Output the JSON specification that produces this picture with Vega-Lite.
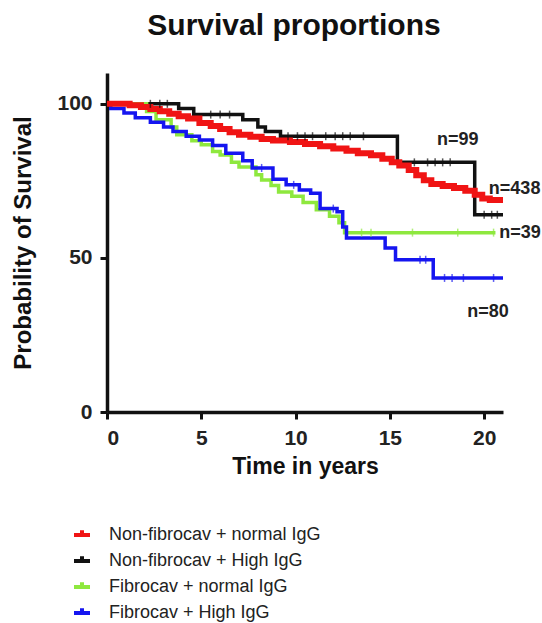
{
  "$schema": "https://vega.github.io/schema/vega-lite/v6.json",
  "width": 396,
  "height": 339,
  "autosize": {"type": "none"},
  "padding": {"left": 107, "top": 73, "right": 39, "bottom": 211},
  "background": "white",
  "config": {
    "view": {"stroke": null},
    "font": "Liberation Sans",
    "axis": {
      "grid": false,
      "domainColor": "#111111",
      "domainWidth": 3.5,
      "tickColor": "#111111",
      "tickWidth": 3,
      "tickSize": 7,
      "labelFont": "Liberation Sans",
      "labelFontSize": 21,
      "labelFontWeight": "bold",
      "labelColor": "#222222",
      "labelPadding": 8,
      "titleFont": "Liberation Sans",
      "titleFontWeight": "bold",
      "titleColor": "#111111"
    }
  },
  "title": {
    "text": "Survival proportions",
    "fontSize": 30,
    "fontWeight": "bold",
    "font": "Liberation Sans",
    "color": "#111111",
    "anchor": "middle",
    "offset": 32,
    "dx": -11
  },
  "datasets": {
    "curves": [
      {"group": "Non-fibrocav + High IgG", "t": 0, "s": 100},
      {"group": "Non-fibrocav + High IgG", "t": 3.8, "s": 98.5},
      {"group": "Non-fibrocav + High IgG", "t": 4.6, "s": 96.5},
      {"group": "Non-fibrocav + High IgG", "t": 7.2, "s": 94.8},
      {"group": "Non-fibrocav + High IgG", "t": 8.0, "s": 92.5},
      {"group": "Non-fibrocav + High IgG", "t": 8.4, "s": 91},
      {"group": "Non-fibrocav + High IgG", "t": 9.2, "s": 89.5},
      {"group": "Non-fibrocav + High IgG", "t": 15.4, "s": 81},
      {"group": "Non-fibrocav + High IgG", "t": 19.5, "s": 64},
      {"group": "Non-fibrocav + High IgG", "t": 21, "s": 64},

      {"group": "Fibrocav + normal IgG", "t": 0, "s": 100},
      {"group": "Fibrocav + normal IgG", "t": 2.1, "s": 97.5},
      {"group": "Fibrocav + normal IgG", "t": 2.6, "s": 94.8},
      {"group": "Fibrocav + normal IgG", "t": 3.4, "s": 92.5},
      {"group": "Fibrocav + normal IgG", "t": 3.7, "s": 90},
      {"group": "Fibrocav + normal IgG", "t": 4.5, "s": 88},
      {"group": "Fibrocav + normal IgG", "t": 5.0, "s": 86.7},
      {"group": "Fibrocav + normal IgG", "t": 5.6, "s": 84.5},
      {"group": "Fibrocav + normal IgG", "t": 6.0, "s": 83.4},
      {"group": "Fibrocav + normal IgG", "t": 6.6, "s": 81},
      {"group": "Fibrocav + normal IgG", "t": 7.0, "s": 79.5},
      {"group": "Fibrocav + normal IgG", "t": 7.9, "s": 77},
      {"group": "Fibrocav + normal IgG", "t": 8.2, "s": 75.3},
      {"group": "Fibrocav + normal IgG", "t": 8.7, "s": 73.5},
      {"group": "Fibrocav + normal IgG", "t": 9.1, "s": 71.4},
      {"group": "Fibrocav + normal IgG", "t": 9.8, "s": 70},
      {"group": "Fibrocav + normal IgG", "t": 10.4, "s": 68},
      {"group": "Fibrocav + normal IgG", "t": 11.1, "s": 65.6},
      {"group": "Fibrocav + normal IgG", "t": 11.8, "s": 63.5},
      {"group": "Fibrocav + normal IgG", "t": 12.3, "s": 61.4},
      {"group": "Fibrocav + normal IgG", "t": 12.6, "s": 58.2},
      {"group": "Fibrocav + normal IgG", "t": 20.6, "s": 58.2},

      {"group": "Fibrocav + High IgG", "t": 0, "s": 100},
      {"group": "Fibrocav + High IgG", "t": 0.2, "s": 98.5},
      {"group": "Fibrocav + High IgG", "t": 0.9, "s": 97},
      {"group": "Fibrocav + High IgG", "t": 1.5, "s": 95.5},
      {"group": "Fibrocav + High IgG", "t": 2.3, "s": 94},
      {"group": "Fibrocav + High IgG", "t": 3.0, "s": 92.5},
      {"group": "Fibrocav + High IgG", "t": 3.5, "s": 91},
      {"group": "Fibrocav + High IgG", "t": 4.2, "s": 89.5},
      {"group": "Fibrocav + High IgG", "t": 4.9, "s": 88.3},
      {"group": "Fibrocav + High IgG", "t": 5.6, "s": 86.5},
      {"group": "Fibrocav + High IgG", "t": 6.3, "s": 84},
      {"group": "Fibrocav + High IgG", "t": 7.2, "s": 81.5},
      {"group": "Fibrocav + High IgG", "t": 7.7, "s": 79.2},
      {"group": "Fibrocav + High IgG", "t": 8.8, "s": 75.5},
      {"group": "Fibrocav + High IgG", "t": 9.5, "s": 73.7},
      {"group": "Fibrocav + High IgG", "t": 10.2, "s": 72},
      {"group": "Fibrocav + High IgG", "t": 10.8, "s": 71},
      {"group": "Fibrocav + High IgG", "t": 11.3, "s": 66},
      {"group": "Fibrocav + High IgG", "t": 12.2, "s": 65},
      {"group": "Fibrocav + High IgG", "t": 12.5, "s": 60},
      {"group": "Fibrocav + High IgG", "t": 12.7, "s": 56.5},
      {"group": "Fibrocav + High IgG", "t": 14.75, "s": 53.2},
      {"group": "Fibrocav + High IgG", "t": 15.3, "s": 49.4},
      {"group": "Fibrocav + High IgG", "t": 17.3, "s": 43.5},
      {"group": "Fibrocav + High IgG", "t": 21, "s": 43.5},

      {"group": "Non-fibrocav + normal IgG", "t": 0, "s": 100},
      {"group": "Non-fibrocav + normal IgG", "t": 1.2, "s": 99.5},
      {"group": "Non-fibrocav + normal IgG", "t": 1.8, "s": 99},
      {"group": "Non-fibrocav + normal IgG", "t": 2.3, "s": 98.3},
      {"group": "Non-fibrocav + normal IgG", "t": 2.8, "s": 97.6},
      {"group": "Non-fibrocav + normal IgG", "t": 3.3, "s": 96.8},
      {"group": "Non-fibrocav + normal IgG", "t": 3.8, "s": 96},
      {"group": "Non-fibrocav + normal IgG", "t": 4.3, "s": 95.2},
      {"group": "Non-fibrocav + normal IgG", "t": 4.9, "s": 93.8},
      {"group": "Non-fibrocav + normal IgG", "t": 5.5, "s": 92.8},
      {"group": "Non-fibrocav + normal IgG", "t": 6.0, "s": 91.8},
      {"group": "Non-fibrocav + normal IgG", "t": 6.5, "s": 90.8},
      {"group": "Non-fibrocav + normal IgG", "t": 7.0, "s": 90},
      {"group": "Non-fibrocav + normal IgG", "t": 7.6, "s": 89.3},
      {"group": "Non-fibrocav + normal IgG", "t": 8.2, "s": 88.6},
      {"group": "Non-fibrocav + normal IgG", "t": 8.8, "s": 88.1},
      {"group": "Non-fibrocav + normal IgG", "t": 9.7, "s": 87.6},
      {"group": "Non-fibrocav + normal IgG", "t": 10.5, "s": 87},
      {"group": "Non-fibrocav + normal IgG", "t": 11.3, "s": 86.2},
      {"group": "Non-fibrocav + normal IgG", "t": 12.0, "s": 85.5},
      {"group": "Non-fibrocav + normal IgG", "t": 12.7, "s": 84.8},
      {"group": "Non-fibrocav + normal IgG", "t": 13.3, "s": 84},
      {"group": "Non-fibrocav + normal IgG", "t": 14.0, "s": 83.3},
      {"group": "Non-fibrocav + normal IgG", "t": 14.6, "s": 82.2},
      {"group": "Non-fibrocav + normal IgG", "t": 15.1, "s": 81},
      {"group": "Non-fibrocav + normal IgG", "t": 15.5, "s": 80},
      {"group": "Non-fibrocav + normal IgG", "t": 16.0, "s": 78.5},
      {"group": "Non-fibrocav + normal IgG", "t": 16.4, "s": 76.8},
      {"group": "Non-fibrocav + normal IgG", "t": 16.8, "s": 75.2},
      {"group": "Non-fibrocav + normal IgG", "t": 17.2, "s": 74},
      {"group": "Non-fibrocav + normal IgG", "t": 17.8, "s": 73.3},
      {"group": "Non-fibrocav + normal IgG", "t": 18.4, "s": 72.7},
      {"group": "Non-fibrocav + normal IgG", "t": 19.0, "s": 71.8},
      {"group": "Non-fibrocav + normal IgG", "t": 19.5, "s": 70.5},
      {"group": "Non-fibrocav + normal IgG", "t": 19.9, "s": 69.3},
      {"group": "Non-fibrocav + normal IgG", "t": 20.3, "s": 68.8},
      {"group": "Non-fibrocav + normal IgG", "t": 21, "s": 68.8}
    ],
    "censor": [
      {"group": "Non-fibrocav + High IgG", "t": 2.3, "s": 100},
      {"group": "Non-fibrocav + High IgG", "t": 2.8, "s": 100},
      {"group": "Non-fibrocav + High IgG", "t": 3.2, "s": 100},
      {"group": "Non-fibrocav + High IgG", "t": 5.5, "s": 96.5},
      {"group": "Non-fibrocav + High IgG", "t": 6.0, "s": 96.5},
      {"group": "Non-fibrocav + High IgG", "t": 6.5, "s": 96.5},
      {"group": "Non-fibrocav + High IgG", "t": 9.6, "s": 89.5},
      {"group": "Non-fibrocav + High IgG", "t": 10.1, "s": 89.5},
      {"group": "Non-fibrocav + High IgG", "t": 10.5, "s": 89.5},
      {"group": "Non-fibrocav + High IgG", "t": 10.9, "s": 89.5},
      {"group": "Non-fibrocav + High IgG", "t": 11.6, "s": 89.5},
      {"group": "Non-fibrocav + High IgG", "t": 12.1, "s": 89.5},
      {"group": "Non-fibrocav + High IgG", "t": 12.5, "s": 89.5},
      {"group": "Non-fibrocav + High IgG", "t": 12.9, "s": 89.5},
      {"group": "Non-fibrocav + High IgG", "t": 13.6, "s": 89.5},
      {"group": "Non-fibrocav + High IgG", "t": 16.3, "s": 81},
      {"group": "Non-fibrocav + High IgG", "t": 17.0, "s": 81},
      {"group": "Non-fibrocav + High IgG", "t": 17.4, "s": 81},
      {"group": "Non-fibrocav + High IgG", "t": 17.8, "s": 81},
      {"group": "Non-fibrocav + High IgG", "t": 18.2, "s": 81},
      {"group": "Non-fibrocav + High IgG", "t": 20.0, "s": 64},
      {"group": "Non-fibrocav + High IgG", "t": 20.4, "s": 64},
      {"group": "Non-fibrocav + High IgG", "t": 20.7, "s": 64},
      {"group": "Fibrocav + normal IgG", "t": 13.5, "s": 58.2},
      {"group": "Fibrocav + normal IgG", "t": 14.0, "s": 58.2},
      {"group": "Fibrocav + normal IgG", "t": 16.2, "s": 58.2},
      {"group": "Fibrocav + normal IgG", "t": 18.6, "s": 58.2},
      {"group": "Fibrocav + normal IgG", "t": 20.5, "s": 58.2},
      {"group": "Fibrocav + High IgG", "t": 8.2, "s": 79.2},
      {"group": "Fibrocav + High IgG", "t": 9.9, "s": 73.7},
      {"group": "Fibrocav + High IgG", "t": 12.0, "s": 66},
      {"group": "Fibrocav + High IgG", "t": 16.6, "s": 49.4},
      {"group": "Fibrocav + High IgG", "t": 16.9, "s": 49.4},
      {"group": "Fibrocav + High IgG", "t": 17.9, "s": 43.5},
      {"group": "Fibrocav + High IgG", "t": 18.3, "s": 43.5},
      {"group": "Fibrocav + High IgG", "t": 18.9, "s": 43.5},
      {"group": "Fibrocav + High IgG", "t": 20.5, "s": 43.5}
    ],
    "labels": [
      {"label": "n=99", "t": 17.5, "s": 88.3},
      {"label": "n=438", "t": 20.25, "s": 72.4},
      {"label": "n=39", "t": 20.8, "s": 58.1},
      {"label": "n=80", "t": 19.1, "s": 32.5}
    ]
  },
  "encoding": {
    "x": {
      "field": "t", "type": "quantitative",
      "scale": {"domain": [0, 21], "nice": false, "zero": false},
      "axis": {"values": [0, 5, 10, 15, 20], "title": "Time in years", "titleFontSize": 23, "titlePadding": 7}
    },
    "y": {
      "field": "s", "type": "quantitative",
      "scale": {"domain": [0, 110], "nice": false},
      "axis": {"values": [0, 50, 100], "title": "Probability of Survival", "titleFontSize": 24, "titlePadding": 21}
    }
  },
  "layer": [
    {
      "data": {"name": "curves"},
      "transform": [{"filter": "datum.group !== 'Non-fibrocav + normal IgG'"}],
      "mark": {"type": "line", "interpolate": "step-after", "strokeWidth": 3.5},
      "encoding": {
        "color": {
          "field": "group", "type": "nominal",
          "scale": {
            "domain": ["Non-fibrocav + normal IgG", "Non-fibrocav + High IgG", "Fibrocav + normal IgG", "Fibrocav + High IgG"],
            "range": ["#f01414", "#111111", "#8ee83e", "#1515f0"]
          },
          "legend": {
            "title": null,
            "orient": "none",
            "legendX": -35,
            "legendY": 452,
            "padding": 0,
            "symbolType": "M-1,0H1M0,0V-0.6",
            "symbolSize": 256,
            "symbolStrokeWidth": 4,
            "symbolOpacity": 1,
            "labelFont": "Liberation Sans",
            "labelFontSize": 18,
            "labelColor": "#222222",
            "labelOffset": 17,
            "rowPadding": 4,
            "labelLimit": 400,
            "encode": {
              "symbols": {
                "update": {
                  "opacity": {"value": 1},
                  "strokeOpacity": {"value": 1},
                  "fillOpacity": {"value": 0}
                }
              }
            }
          }
        }
      }
    },
    {
      "data": {"name": "curves"},
      "transform": [{"filter": "datum.group === 'Non-fibrocav + normal IgG'"}],
      "mark": {"type": "line", "interpolate": "step-after", "strokeWidth": 6},
      "encoding": {
        "color": {"field": "group", "type": "nominal"}
      }
    },
    {
      "data": {"name": "censor"},
      "mark": {"type": "tick", "orient": "vertical", "size": 8, "thickness": 1.5},
      "encoding": {
        "color": {"field": "group", "type": "nominal"}
      }
    },
    {
      "data": {"name": "labels"},
      "mark": {"type": "text", "align": "left", "baseline": "middle", "font": "Liberation Sans", "fontSize": 18, "fontWeight": "bold", "color": "#222222"},
      "encoding": {
        "text": {"field": "label", "type": "nominal"}
      }
    }
  ]
}
